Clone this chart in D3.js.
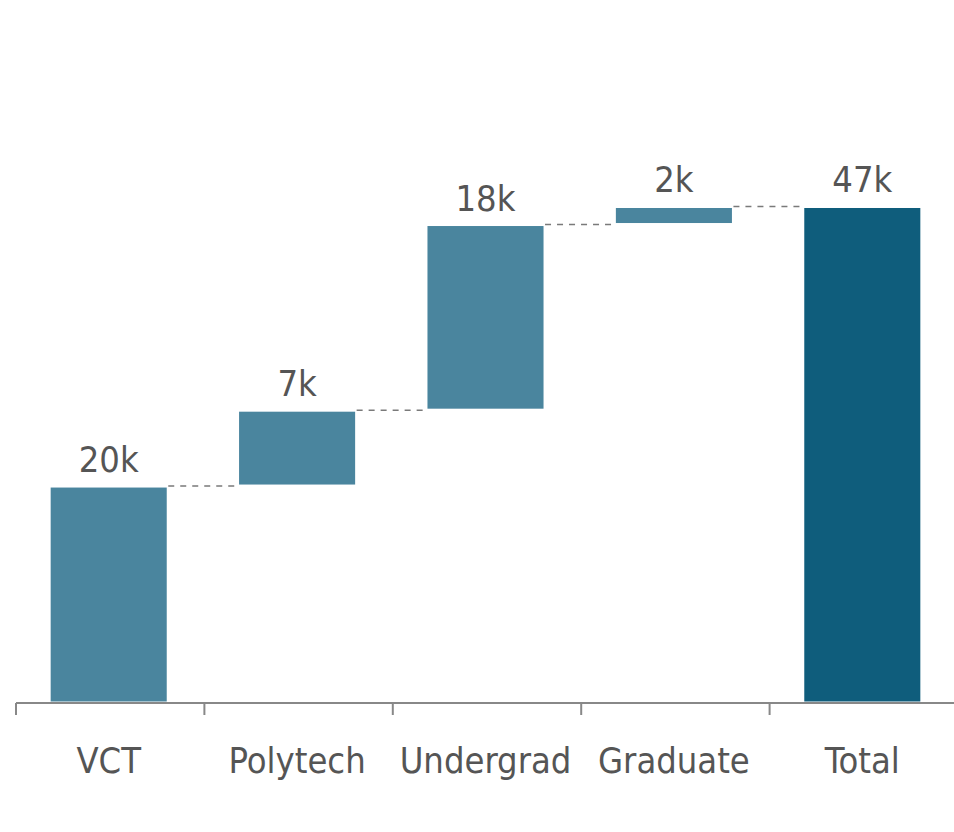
<!DOCTYPE html>
<html>
<head>
<meta charset="utf-8">
<script src="https://cdn.jsdelivr.net/npm/d3@7"></script>
<style>
  body { margin: 0; background: #fff; }
  svg text { font-family: "DejaVu Sans Condensed", "DejaVu Sans", sans-serif; fill: #555; }
</style>
</head>
<body>
<svg id="drawing_region"></svg>
<script>
// waterfall data (thousands)
const categories = ['VCT', 'Polytech', 'Undergrad', 'Graduate'];
const values = [20.45, 7.15, 17.5, 1.7];
const totalLabel = 'Total';
const yMax = 55;

const config = {
    parent: '#drawing_region',
    width: 954,
    height: 832,
    margin: { top: 119.5, right: -4, bottom: 129, left: 16 }
};

// build steps with running sums
let running = 0;
const steps = categories.map((c, i) => {
    const start = running;
    running += values[i];
    return { label: c, start: start, end: running, value: values[i], total: false };
});
steps.push({ label: totalLabel, start: 0, end: running, value: running, total: true });

const svg = d3.select(config.parent)
    .attr('width', config.width)
    .attr('height', config.height);

const inner_width = config.width - config.margin.left - config.margin.right;
const inner_height = config.height - config.margin.top - config.margin.bottom;

const chart = svg.append('g')
    .attr('transform', `translate(${config.margin.left}, ${config.margin.top})`);

const pad = 0.368;
const xscale = d3.scaleBand()
    .domain(steps.map(d => d.label))
    .range([0, inner_width])
    .paddingInner(pad)
    .paddingOuter(pad / 2);

const yscale = d3.scaleLinear()
    .domain([0, yMax])
    .range([inner_height, 0]);

const fmt = v => Math.round(v) + 'k';
const barShift = -1.5;

// bars
chart.selectAll('rect.bar')
    .data(steps)
    .join('rect')
    .attr('class', 'bar')
    .attr('x', d => xscale(d.label) + barShift)
    .attr('y', d => yscale(d.end))
    .attr('width', xscale.bandwidth())
    .attr('height', d => yscale(d.start) - yscale(d.end))
    .attr('fill', d => d.total ? '#0f5d7c' : '#4a859e')
    .attr('stroke', '#fff')
    .attr('stroke-width', 3);

// dashed connectors
chart.selectAll('line.conn')
    .data(steps.slice(0, -1))
    .join('line')
    .attr('class', 'conn')
    .attr('x1', d => xscale(d.label) + xscale.bandwidth() + barShift)
    .attr('x2', (d, i) => xscale(steps[i + 1].label) + barShift)
    .attr('y1', d => yscale(d.end))
    .attr('y2', d => yscale(d.end))
    .attr('stroke', '#7a7a7a')
    .attr('stroke-width', 1.5)
    .attr('stroke-dasharray', '6,6');

// value labels
chart.selectAll('text.value')
    .data(steps)
    .join('text')
    .attr('class', 'value')
    .attr('x', d => xscale(d.label) + xscale.bandwidth() / 2 + barShift)
    .attr('y', d => yscale(d.end) - 14)
    .attr('text-anchor', 'middle')
    .attr('font-size', 36)
    .text(d => fmt(d.value));

// x axis
const axis = chart.append('g')
    .attr('transform', `translate(0, ${inner_height})`);

axis.append('line')
    .attr('x1', 0)
    .attr('x2', inner_width)
    .attr('stroke', '#888')
    .attr('stroke-width', 2);

const step = xscale.step();
axis.selectAll('line.tick')
    .data(steps)
    .join('line')
    .attr('class', 'tick')
    .attr('x1', d => xscale(d.label) - step * pad / 2)
    .attr('x2', d => xscale(d.label) - step * pad / 2)
    .attr('y1', 0)
    .attr('y2', 12)
    .attr('stroke', '#888')
    .attr('stroke-width', 2);

axis.selectAll('text.cat')
    .data(steps)
    .join('text')
    .attr('class', 'cat')
    .attr('x', d => xscale(d.label) + xscale.bandwidth() / 2 + barShift)
    .attr('y', 70)
    .attr('text-anchor', 'middle')
    .attr('font-size', 36)
    .text(d => d.label);
</script>
</body>
</html>
